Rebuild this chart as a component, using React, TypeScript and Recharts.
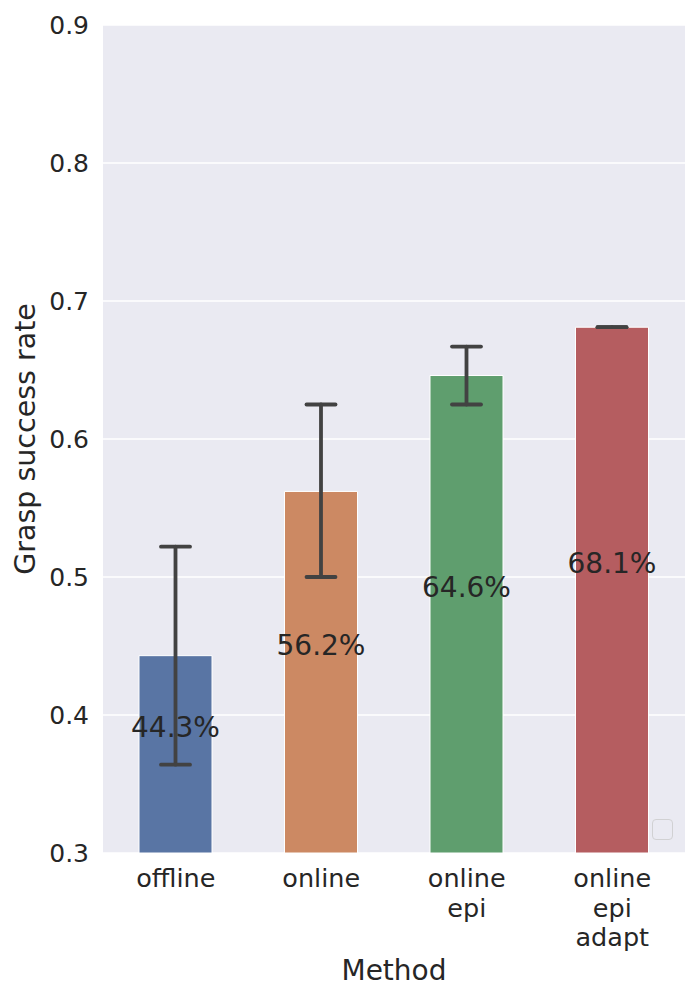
import React from 'react';
import { BarChart, Bar, XAxis, YAxis, CartesianGrid, ErrorBar, Cell, LabelList } from 'recharts';

const categories = ['offline', 'online', 'online\nepi', 'online\nepi\nadapt'];
const successRate = [0.443, 0.562, 0.646, 0.681];
const ciLow = [0.364, 0.5, 0.625, 0.681];
const ciHigh = [0.522, 0.625, 0.667, 0.681];
const barColors = ['#5975A4', '#CC8963', '#5F9E6E', '#B55D60'];
const yTicks = [0.3, 0.4, 0.5, 0.6, 0.7, 0.8, 0.9];

const Y_MIN = 0.3;
const Y_MAX = 0.9;
const LABEL_ANCHOR = 0.336;
const FONT = '"DejaVu Sans", sans-serif';
const TEXT = '#262626';

const data = categories.map((c, i) => ({
  name: c,
  value: successRate[i],
  err: [successRate[i] - ciLow[i], ciHigh[i] - successRate[i]],
}));

const XTick = (props: any) => {
  const { x, y, payload } = props;
  const lines = String(payload.value).split('\n');
  return (
    <text x={x} y={y + 34} textAnchor="middle" fill={TEXT} fontSize={25.5} fontFamily={FONT}>
      {lines.map((l, i) => (
        <tspan key={i} x={x} dy={i === 0 ? 0 : 29.5}>
          {l}
        </tspan>
      ))}
    </text>
  );
};

const renderValueLabel = (props: any) => {
  const { x, y, width, height, value } = props;
  const k = height / (value - Y_MIN);
  const cy = y + (k * (value - LABEL_ANCHOR)) / 2;
  return (
    <text
      x={x + width / 2}
      y={cy}
      dy="0.28em"
      textAnchor="middle"
      fill={TEXT}
      fontSize={28}
      fontFamily={FONT}
    >
      {(value * 100).toFixed(1) + '%'}
    </text>
  );
};

const YLabel = (props: any) => {
  const vb = props.viewBox || {};
  const cy = vb.y + vb.height / 2;
  return (
    <text
      x={35}
      y={cy}
      transform={`rotate(-90, 35, ${cy})`}
      textAnchor="middle"
      fill={TEXT}
      fontSize={28.5}
      fontFamily={FONT}
    >
      Grasp success rate
    </text>
  );
};

const XLabel = (props: any) => {
  const vb = props.viewBox || {};
  return (
    <text
      x={vb.x + vb.width / 2}
      y={980}
      textAnchor="middle"
      fill={TEXT}
      fontSize={28}
      fontFamily={FONT}
    >
      Method
    </text>
  );
};

export default function App() {
  return (
    <div style={{ position: 'absolute', left: 0, top: 0, width: 700, height: 1000, background: '#fff' }}>
      <BarChart
        width={700}
        height={1000}
        data={data}
        margin={{ top: 25, right: 15, left: 0, bottom: 0 }}
        barSize={73}
      >
        <CartesianGrid vertical={false} stroke="#FFFFFF" strokeWidth={1.4} fill="#EAEAF2" />
        <XAxis
          dataKey="name"
          axisLine={false}
          tickLine={false}
          tickSize={0}
          tickMargin={0}
          height={147}
          interval={0}
          tick={<XTick />}
          label={<XLabel />}
        />
        <YAxis
          type="number"
          domain={[Y_MIN, Y_MAX]}
          ticks={yTicks}
          axisLine={false}
          tickLine={false}
          tickSize={0}
          tickMargin={14}
          width={103}
          tickFormatter={(v: number) => v.toFixed(1)}
          tick={{ fill: TEXT, fontSize: 25, fontFamily: FONT }}
          label={<YLabel />}
        />
        <Bar dataKey="value" stroke="#FFFFFF" strokeWidth={1} isAnimationActive={false}>
          {data.map((d, i) => (
            <Cell key={d.name} fill={barColors[i]} />
          ))}
          <LabelList dataKey="value" content={renderValueLabel} />
          <ErrorBar
            dataKey="err"
            direction="y"
            width={14.5}
            stroke="#424242"
            strokeWidth={3.8}
            strokeLinecap="round"
            isAnimationActive={false}
          />
        </Bar>
      </BarChart>
      <div
        style={{
          position: 'absolute',
          left: 652,
          top: 819,
          width: 19,
          height: 19,
          border: '1.2px solid #CCCCCC',
          borderRadius: 4,
          background: '#EAEAF2',
          opacity: 0.8,
        }}
      />
    </div>
  );
}
